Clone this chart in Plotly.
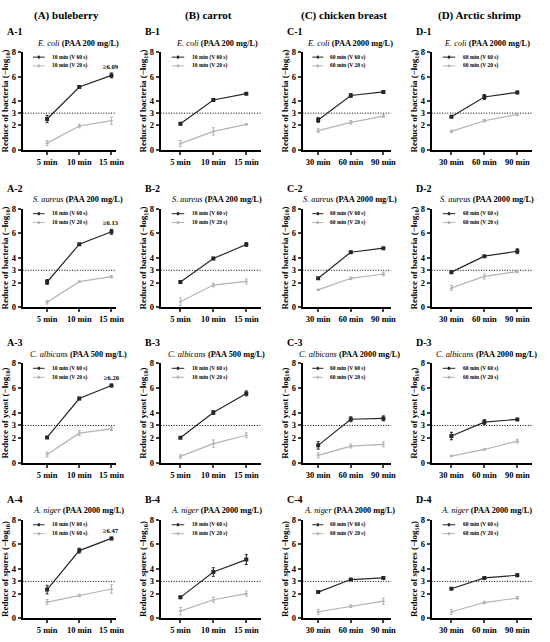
import plotly.graph_objects as go

# x categories
times_ab = ["5 min", "10 min", "15 min"]
times_cd = ["30 min", "60 min", "90 min"]

columns = ["(A) buleberry", "(B) carrot", "(C) chicken breast", "(D) Arctic shrimp"]
col_letters = ["A", "B", "C", "D"]
organisms = ["E. coli", "S. aureus", "C. albicans", "A. niger"]
units = ["bacteria", "bacteria", "yeast", "spores"]
paa_dose = [
    [200, 200, 2000, 2000],
    [200, 200, 2000, 2000],
    [500, 500, 2000, 2000],
    [2000, 2000, 2000, 2000],
]

# rows = E. coli, S. aureus, C. albicans, A. niger
blueberry_v60 = [[2.52, 5.15, 6.10], [2.05, 5.12, 6.13], [2.04, 5.17, 6.22], [2.33, 5.50, 6.49]]
blueberry_v60_err = [[0.3, 0.1, 0.2], [0.2, 0.05, 0.2], [0.05, 0.1, 0.1], [0.35, 0.2, 0.1]]
blueberry_v20 = [[0.54, 1.95, 2.38], [0.40, 2.08, 2.48], [0.66, 2.38, 2.73], [1.32, 1.85, 2.38]]
blueberry_v20_err = [[0.2, 0.15, 0.3], [0.15, 0.05, 0.1], [0.2, 0.2, 0.15], [0.2, 0.1, 0.35]]

carrot_v60 = [[2.13, 4.08, 4.60], [2.05, 3.96, 5.10], [2.02, 4.04, 5.58], [1.70, 3.76, 4.77]]
carrot_v60_err = [[0.1, 0.1, 0.05], [0.05, 0.1, 0.15], [0.05, 0.15, 0.2], [0.1, 0.35, 0.4]]
carrot_v20 = [[0.50, 1.50, 2.08], [0.45, 1.80, 2.10], [0.51, 1.54, 2.21], [0.58, 1.51, 2.01]]
carrot_v20_err = [[0.25, 0.3, 0.05], [0.3, 0.15, 0.2], [0.15, 0.3, 0.2], [0.3, 0.2, 0.2]]

chicken_v60 = [[2.44, 4.45, 4.74], [2.35, 4.47, 4.80], [1.40, 3.50, 3.57], [2.13, 3.15, 3.28]]
chicken_v60_err = [[0.2, 0.15, 0.05], [0.05, 0.1, 0.05], [0.3, 0.2, 0.2], [0.05, 0.05, 0.05]]
chicken_v20 = [[1.57, 2.25, 2.76], [1.41, 2.35, 2.70], [0.59, 1.34, 1.48], [0.53, 0.99, 1.39]]
chicken_v20_err = [[0.15, 0.15, 0.1], [0.05, 0.1, 0.15], [0.2, 0.15, 0.2], [0.2, 0.1, 0.25]]

shrimp_v60 = [[2.70, 4.33, 4.70], [2.85, 4.15, 4.55], [2.15, 3.27, 3.49], [2.40, 3.28, 3.50]]
shrimp_v60_err = [[0.05, 0.2, 0.1], [0.1, 0.05, 0.2], [0.3, 0.2, 0.05], [0.05, 0.1, 0.1]]
shrimp_v20 = [[1.50, 2.38, 2.90], [1.57, 2.50, 2.90], [0.54, 1.07, 1.74], [0.53, 1.28, 1.65]]
shrimp_v20_err = [[0.1, 0.1, 0.1], [0.2, 0.2, 0.1], [0.05, 0.05, 0.15], [0.2, 0.1, 0.1]]

min_labels = ["≥6.09", "≥6.13", "≥6.20", "≥6.47"]
threshold = 3

v60_all = [blueberry_v60, carrot_v60, chicken_v60, shrimp_v60]
v60_err_all = [blueberry_v60_err, carrot_v60_err, chicken_v60_err, shrimp_v60_err]
v20_all = [blueberry_v20, carrot_v20, chicken_v20, shrimp_v20]
v20_err_all = [blueberry_v20_err, carrot_v20_err, chicken_v20_err, shrimp_v20_err]

W, H = 550, 642
FONT = "Liberation Serif"
DARK = "#262626"
LIGHT = "#b3b3b3"

# panel placement in pixels
col_px = [(23, 118), (163, 265), (307, 397), (438, 540)]
row_px = [(48, 147), (207, 307), (364, 465), (523, 623)]
x_ranges = [[-0.76, 2.15], [-0.6, 2.45], [-0.48, 2.24], [-0.6, 2.45]]
sub_shift = [9, 6, 3, 5]

fig = go.Figure()
annotations = []
shapes = []
layout = {}

for j in range(4):
    annotations.append(dict(
        x=(col_px[j][0] + col_px[j][1]) / 2 / W - 0.005, y=1 - 11 / H,
        xref="paper", yref="paper", xanchor="center", yanchor="middle",
        text=f"<b>{columns[j]}</b>", showarrow=False,
        font=dict(family=FONT, size=11, color="black"),
    ))

for i in range(4):
    for j in range(4):
        k = i * 4 + j + 1
        sfx = "" if k == 1 else str(k)
        xa, ya = f"x{sfx}", f"y{sfx}"
        cats = times_ab if j < 2 else times_cd
        dur = "10 min" if j < 2 else "60 min"
        name60 = f"{dur} (V 60 s)"
        name20 = f"{dur} (V 20 s)"
        if i == 3 and j == 0:
            name20 = f"{dur} (V 60 s)"

        fig.add_trace(go.Scatter(
            x=[0, 1, 2], y=v60_all[j][i], name=name60, xaxis=xa, yaxis=ya,
            mode="lines+markers", showlegend=False,
            line=dict(color=DARK, width=1.2),
            marker=dict(symbol="square", size=4, color=DARK),
            error_y=dict(type="data", array=v60_err_all[j][i], color=DARK,
                         thickness=1, width=1.5),
        ))
        fig.add_trace(go.Scatter(
            x=[0, 1, 2], y=v20_all[j][i], name=name20, xaxis=xa, yaxis=ya,
            mode="lines+markers", showlegend=False,
            line=dict(color=LIGHT, width=1.2),
            marker=dict(symbol="triangle-up", size=3.5, color=LIGHT),
            error_y=dict(type="data", array=v20_err_all[j][i], color=LIGHT,
                         thickness=1, width=1.5),
        ))

        x0, x1 = col_px[j][0] / W, col_px[j][1] / W
        y1, y0 = 1 - row_px[i][0] / H, 1 - row_px[i][1] / H
        tick_font = dict(family=FONT, size=8.5, color="black", weight="bold")
        layout[f"xaxis{sfx}"] = dict(
            domain=[x0, x1], anchor=ya, range=x_ranges[j],
            tickvals=[0, 1, 2], ticktext=cats, ticks="outside", ticklen=3,
            tickwidth=1.5, showline=True, linewidth=1.8, linecolor="black",
            showgrid=False, zeroline=False, tickfont=tick_font, fixedrange=True,
        )
        layout[f"yaxis{sfx}"] = dict(
            domain=[y0, y1], anchor=xa, range=[0, 8],
            tickvals=[0, 2, 3, 4, 6, 8], ticks="outside", ticklen=3,
            tickwidth=1.5, showline=True, linewidth=1.8, linecolor="black",
            showgrid=False, zeroline=False, tickfont=tick_font,
            title=dict(text=f"<b>Reduce of {units[i]} (−log<sub>10</sub>)</b>",
                       font=dict(family=FONT, size=9, color="black"), standoff=2),
        )

        # compact legend drawn inside the panel
        for name, color, ly in ((name60, DARK, 0.95), (name20, LIGHT, 0.86)):
            shapes.append(dict(
                type="line", xref=f"{xa} domain", yref=f"{ya} domain",
                x0=0.11, x1=0.235, y0=ly, y1=ly, line=dict(color=color, width=1),
            ))
            shapes.append(dict(
                type="rect", xref=f"{xa} domain", yref=f"{ya} domain",
                x0=0.161, x1=0.184, y0=ly - 0.015, y1=ly + 0.015,
                fillcolor=color, line=dict(width=0),
            ))
            annotations.append(dict(
                x=0.29, y=ly, xref=f"{xa} domain", yref=f"{ya} domain",
                xanchor="left", yanchor="middle", text=f"<b>{name}</b>",
                showarrow=False, font=dict(family=FONT, size=5.5, color="black"),
            ))

        # panel label and subtitle
        annotations.append(dict(
            x=(col_px[j][0] - 18) / W, y=1 - (row_px[i][0] - 21) / H,
            xref="paper", yref="paper", text=f"<b>{col_letters[j]}-{i + 1}</b>",
            showarrow=False, xanchor="left", yanchor="middle",
            font=dict(family=FONT, size=10, color="black"),
        ))
        annotations.append(dict(
            x=((col_px[j][0] + col_px[j][1]) / 2 + sub_shift[j]) / W,
            y=1 - (row_px[i][0] - 9) / H,
            xref="paper", yref="paper", xanchor="center", yanchor="middle",
            text=f"<i>{organisms[i]}</i> <b>(PAA {paa_dose[i][j]} mg/L)</b>",
            showarrow=False, font=dict(family=FONT, size=8.3, color="black"),
        ))
        if j == 0:
            annotations.append(dict(
                x=2, y=v60_all[j][i][2] + v60_err_all[j][i][2], xref=xa, yref=ya,
                text=f"<b>{min_labels[i]}</b>", showarrow=False, yanchor="bottom",
                xanchor="center", yshift=1,
                font=dict(family=FONT, size=6.5, color="black"),
            ))
        shapes.append(dict(
            type="line", xref=f"{xa} domain", yref=ya, x0=0, x1=1,
            y0=threshold, y1=threshold,
            line=dict(color="black", width=1, dash="1px,1.6px"), layer="below",
        ))

fig.update_layout(
    width=W, height=H, margin=dict(l=0, r=0, t=0, b=0),
    plot_bgcolor="white", paper_bgcolor="white",
    annotations=annotations, shapes=shapes, showlegend=False,
    **layout,
)

# drop the default page margin so the figure sits at the window's corner
fig.write_html(
    "out.html",
    config={"displayModeBar": False},
    post_script="document.body.style.margin = '0';",
)
